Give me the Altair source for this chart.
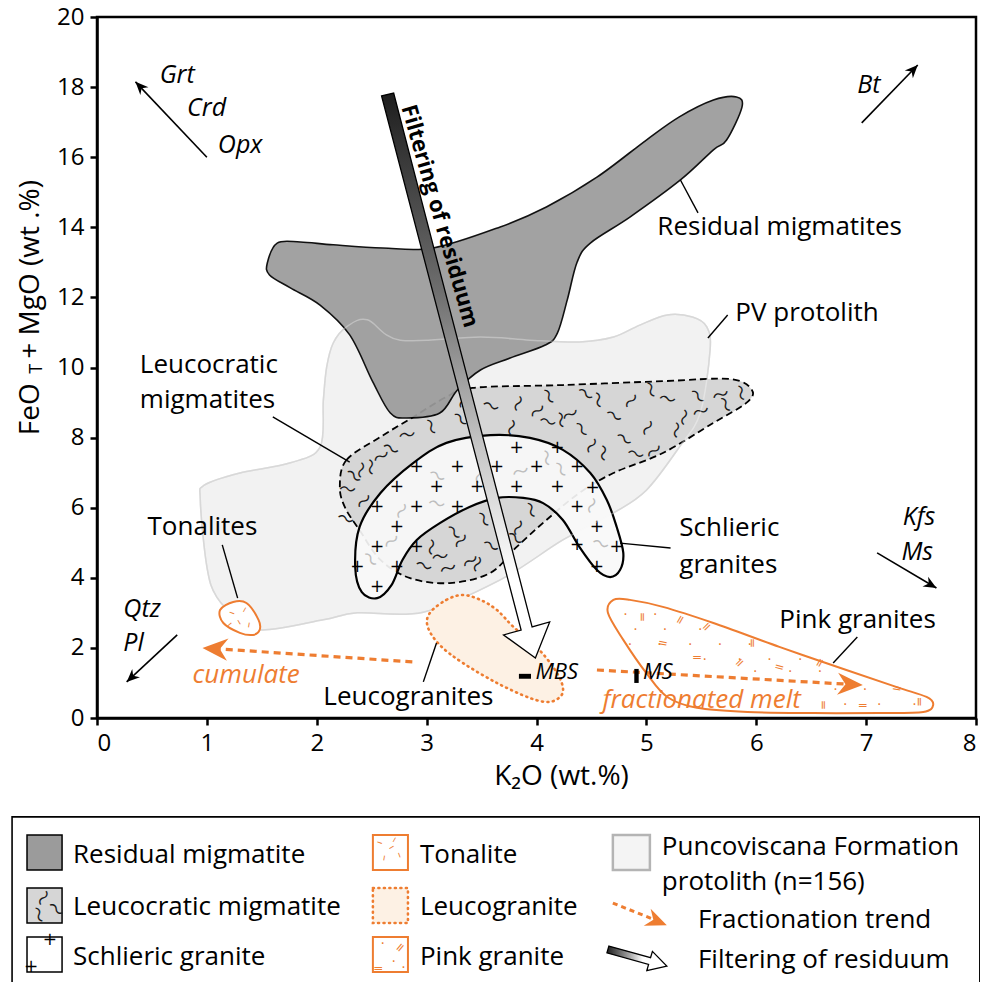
import altair as alt
import pandas as pd

FONT = "Open Sans"
GLYPH = "DejaVu Sans"
WAVE_FONT = "Noto Sans CJK JP"
ORANGE = "#ee7d31"

# ---------------- polygons (K2O, FeOT+MgO) ----------------
PV_X = [0.98, 0.94, 1.00, 1.09, 1.30, 1.51, 2.06, 2.37, 2.97, 3.67, 4.24, 4.70, 5.00, 5.30, 5.49, 5.58, 5.55, 5.42, 5.19, 4.94, 4.70, 4.39, 3.94, 3.49, 2.76, 2.46, 2.27, 2.15, 2.09, 2.06, 2.03, 1.76, 1.30]
PV_Y = [6.65, 6.22, 4.31, 3.45, 2.80, 2.51, 2.80, 3.00, 3.02, 3.94, 5.08, 5.85, 6.50, 7.73, 8.70, 10.50, 11.16, 11.44, 11.50, 11.21, 10.87, 10.73, 10.78, 10.87, 10.78, 11.36, 11.16, 10.70, 10.01, 9.07, 7.73, 7.28, 6.99]

RES_X = [1.55, 1.64, 1.85, 2.15, 2.60, 3.06, 3.67, 4.09, 4.55, 5.00, 5.30, 5.61, 5.82, 5.87, 5.73, 5.61, 5.31, 4.85, 4.49, 4.37, 4.28, 4.19, 4.08, 3.76, 3.49, 3.28, 3.12, 2.82, 2.67, 2.51, 2.30, 2.03, 1.76, 1.57]
RES_Y = [12.98, 13.55, 13.58, 13.50, 13.41, 13.41, 14.01, 14.58, 15.43, 16.49, 17.15, 17.63, 17.72, 17.43, 16.49, 16.21, 15.35, 14.29, 13.55, 13.01, 11.93, 10.98, 10.64, 10.27, 9.93, 9.36, 8.70, 8.56, 8.70, 9.59, 10.93, 11.78, 12.27, 12.64]

LEU_X = [2.21, 2.27, 2.58, 2.88, 3.18, 3.42, 4.24, 5.15, 5.76, 5.96, 5.91, 5.61, 5.15, 4.70, 4.39, 4.09, 3.82, 3.58, 3.21, 2.85, 2.58, 2.39, 2.26]
LEU_Y = [6.59, 7.36, 8.02, 8.59, 9.16, 9.42, 9.50, 9.61, 9.67, 9.36, 8.99, 8.42, 7.56, 6.99, 6.42, 5.65, 4.88, 4.14, 3.85, 3.99, 4.51, 5.36, 5.99]

SCH_X = [2.35, 2.39, 2.58, 2.88, 3.18, 3.58, 3.94, 4.24, 4.49, 4.64, 4.73, 4.79, 4.76, 4.67, 4.55, 4.39, 4.24, 4.06, 3.88, 3.64, 3.39, 3.12, 2.91, 2.78, 2.68, 2.55, 2.41]
SCH_Y = [4.31, 5.45, 6.42, 7.28, 7.85, 8.07, 7.99, 7.65, 6.99, 6.22, 5.45, 4.71, 4.22, 4.02, 4.22, 4.88, 5.65, 6.13, 6.28, 6.28, 6.02, 5.56, 5.08, 4.51, 3.79, 3.42, 3.59]

LG_X = [3.03, 3.18, 3.33, 3.49, 3.64, 3.79, 4.00, 4.15, 4.23, 4.23, 4.12, 3.94, 3.64, 3.33, 3.12, 3.01]
LG_Y = [3.00, 3.37, 3.51, 3.37, 3.08, 2.60, 2.03, 1.46, 1.00, 0.66, 0.46, 0.57, 1.00, 1.57, 2.08, 2.60]

PG_X = [4.70, 4.85, 5.15, 5.61, 6.21, 6.82, 7.28, 7.55, 7.61, 7.52, 7.12, 6.52, 5.92, 5.46, 5.19, 5.00, 4.79, 4.65]
PG_Y = [3.37, 3.37, 3.17, 2.71, 2.03, 1.37, 0.88, 0.60, 0.37, 0.17, 0.14, 0.14, 0.17, 0.29, 0.60, 1.28, 2.23, 3.00]

TN_X = [1.12, 1.24, 1.36, 1.47, 1.48, 1.42, 1.30, 1.15]
TN_Y = [3.08, 3.31, 3.28, 2.80, 2.51, 2.37, 2.43, 2.71]

# filtering-of-residuum arrow outline
FA_X = [2.59, 2.70, 3.96, 4.12, 3.99, 3.70, 3.86]
FA_Y = [17.75, 17.83, 2.60, 2.74, 1.71, 2.37, 2.51]

# ---------------- fill patterns ----------------
SQ_X = [3.58, 3.82, 4.10, 4.30, 4.55, 4.70, 4.85, 5.03, 5.19, 5.33, 5.46, 5.67, 5.85, 5.00, 4.79, 4.60, 5.06, 4.40, 4.10, 3.76, 3.03, 2.82, 2.67, 3.33, 2.48, 2.33, 2.42, 2.28, 3.03, 3.24, 3.39, 3.58, 3.82, 3.94, 3.19, 2.97, 3.73, 3.51,
        4.00, 4.44, 5.26, 5.49, 5.71, 4.90, 4.49, 4.21, 3.30, 2.58, 2.39, 2.26, 3.30, 3.67, 3.12, 3.80, 3.45]
SQ_Y = [8.87, 8.99, 9.16, 8.70, 9.07, 8.59, 9.07, 9.36, 9.07, 8.59, 9.16, 9.27, 9.27, 8.30, 7.93, 7.56, 7.65, 8.22, 8.42, 8.30, 8.30, 8.13, 7.65, 9.07, 7.16, 6.88, 6.22, 6.50, 4.88, 5.28, 4.51, 4.88, 5.45, 5.93, 4.31, 4.31, 4.51, 5.65,
        8.79, 9.22, 8.22, 8.79, 8.93, 7.50, 7.79, 8.50, 8.50, 7.50, 7.08, 5.65, 5.08, 5.36, 4.65, 5.10, 4.40]
SQ_A = [20, 110, 60, 150, 80, 30, 130, 70, 10, 100, 45, 160, 75, 120, 35, 90, 140, 55, 15, 105, 65, 170, 25, 125, 85, 40, 135, 5, 95, 50, 145, 30, 115, 70, 160, 20, 100, 60,
        140, 35, 95, 160, 60, 15, 120, 80, 45, 150, 100, 20, 130, 70, 170, 40, 110]

FS_X = [3.09, 3.46, 3.85, 4.21, 2.76, 3.09, 4.08, 2.67, 2.48, 4.49, 4.58, 3.49]
FS_Y = [6.88, 6.93, 7.08, 7.08, 5.93, 6.08, 7.42, 5.08, 4.51, 6.08, 4.94, 7.50]
FS_A = [30, 100, 160, 60, 120, 10, 80, 140, 50, 110, 20, 90]

PL_X = [3.82, 4.19, 2.91, 3.28, 3.64, 4.00, 4.37, 2.73, 3.09, 3.46, 3.82, 4.19, 4.51, 2.55, 2.91, 3.28, 4.37, 2.73, 4.55, 2.55, 2.91, 4.37, 4.73, 2.37, 2.73, 4.55, 2.55]
PL_Y = [7.70, 7.70, 7.16, 7.16, 7.16, 7.16, 7.16, 6.59, 6.59, 6.59, 6.59, 6.59, 6.56, 6.02, 6.02, 6.02, 6.02, 5.45, 5.45, 4.88, 4.88, 4.94, 4.88, 4.31, 4.31, 4.31, 3.74]

TD_X = [1.23, 1.35, 1.30, 1.39, 1.21]
TD_Y = [3.02, 3.08, 2.74, 2.65, 2.65]
TD_A = [20, 120, 60, 100, 140]

PD_X = [4.81, 5.08, 4.90, 5.17, 5.49, 4.85, 5.12, 5.40, 5.67, 5.94, 5.53, 5.85, 6.12, 6.40, 5.99, 6.31, 6.58, 6.72, 6.99, 6.81, 7.12, 7.44]
PD_Y = [2.94, 2.94, 2.51, 2.51, 2.51, 2.08, 2.08, 2.08, 2.08, 2.08, 1.65, 1.65, 1.65, 1.65, 1.30, 1.30, 1.30, 0.80, 0.80, 0.37, 0.37, 0.37]

PK_X = [4.97, 5.31, 5.55, 5.15, 5.97, 5.46, 5.85, 6.21, 6.58, 6.97, 7.28, 7.49, 6.62]
PK_Y = [2.88, 2.80, 2.60, 2.14, 2.14, 1.74, 1.57, 1.46, 1.57, 0.37, 0.86, 0.46, 0.37]
PK_A = [90, 120, 135, 10, 90, 0, 135, 15, 120, 0, 10, 90, 90]

# ---------------- labels ----------------
LAB_T = ["Residual migmatites", "PV protolith", "Leucocratic", "migmatites", "Tonalites", "Schlieric", "granites", "Pink granites", "Leucogranites"]
LAB_X = [5.10, 5.81, 0.39, 0.39, 0.46, 5.30, 5.30, 6.21, 2.06]
LAB_Y = [14.01, 11.55, 10.07, 9.07, 5.45, 5.42, 4.37, 2.80, 0.60]

MIN_T = ["Grt", "Crd", "Opx", "Bt", "Qtz", "Pl"]
MIN_TX = [0.57, 0.82, 1.10, 6.92, 0.24, 0.24]
MIN_TY = [18.35, 17.40, 16.35, 18.06, 3.12, 2.13]
MINR_T = ["Kfs", "Ms"]
MINR_X = [7.63, 7.61]
MINR_Y = [5.73, 4.74]

SM_T = ["MBS", "MS"]
SM_X = [3.99, 4.97]
SM_Y = [1.30, 1.30]
SM_RX0 = [3.84, 4.89]
SM_RX1 = [3.95, 4.93]
SM_RY0 = [1.12, 1.00]
SM_RY1 = [1.26, 1.40]

OR_T = ["cumulate", "fractionated melt"]
OR_X = [0.87, 4.60]
OR_Y = [1.23, 0.50]

# leader lines
LEAD_X0 = [5.31, 5.56, 1.60, 1.14, 2.97, 4.76, 6.70]
LEAD_Y0 = [15.35, 10.84, 8.59, 4.94, 1.03, 4.99, 1.57]
LEAD_X1 = [5.47, 5.74, 2.30, 1.28, 3.09, 5.22, 6.92]
LEAD_Y1 = [14.41, 11.50, 7.30, 3.42, 2.14, 4.85, 2.31]

# mineral vectors
MV_X0 = [1.00, 6.96, 7.10, 0.73]
MV_Y0 = [16.00, 16.98, 4.71, 2.37]
MV_X1 = [0.35, 7.47, 7.64, 0.27]
MV_Y1 = [18.15, 18.63, 3.71, 1.03]
MV_A = [316, 44, 120, 227]

# fractionation trends
FR_X0 = [2.87, 4.55]
FR_Y0 = [1.60, 1.37]
FR_X1 = [1.12, 6.80]
FR_Y1 = [1.97, 0.97]
FR_TX = [0.96, 6.97]
FR_TY = [2.00, 0.94]
FR_A = [274, 93]

# y-axis title pieces
YT_T = ["FeO", "+ MgO (wt .%)"]
YT_X = [-0.605, -0.605]
YT_Y = [8.07, 10.25]
YSUB_T = ["T"]
YSUB_X = [-0.550]
YSUB_Y = [9.82]

# ---------------- legend (same scales, below the axis) ----------------
LB_X0, LB_X1, LB_Y0, LB_Y1 = [-0.773], [8.035], [-2.82], [-8.2]
SW_C1 = [-0.637, -0.318]
SW_C2 = [2.511, 2.830]
SW_C3 = [4.695, 5.032]
SW_R1 = [-3.34, -4.34]
SW_R2 = [-4.85, -5.85]
SW_R3 = [-6.25, -7.25]
LEG_T = ["Residual migmatite", "Leucocratic migmatite", "Schlieric granite", "Tonalite", "Leucogranite", "Pink granite", "Puncoviscana Formation", "protolith (n=156)", "Fractionation trend", "Filtering of residuum"]
LEG_X = [-0.218, -0.218, -0.218, 2.939, 2.939, 2.939, 5.141, 5.141, 5.469, 5.469]
LEG_Y = [-3.91, -5.39, -6.82, -3.91, -5.39, -6.82, -3.68, -4.68, -5.76, -6.90]
LSQ_X = [-0.50, -0.38, -0.54]
LSQ_Y = [-5.11, -5.48, -5.62]
LSQ_A = [120, 40, 70]
LPL_X = [-0.43, -0.60]
LPL_Y = [-6.33, -7.10]
LTD_X = [2.575, 2.712, 2.757, 2.621, 2.684]
LTD_Y = [-3.54, -3.48, -3.91, -4.00, -3.71]
LTD_A = [20, 120, 70, 100, 150]
LPD_X = [2.600, 2.700, 2.790]
LPD_Y = [-6.45, -6.95, -7.12]
LPK_X = [2.760, 2.560]
LPK_Y = [-6.55, -7.13]
LPK_A = [130, 0]
LFR_X0, LFR_Y0, LFR_X1, LFR_Y1 = [4.695], [-5.28], [5.077], [-5.76]
LFR_TX, LFR_TY, LFR_A = [5.186], [-5.91], [112]
LFA_X = [4.659, 5.038, 5.055, 5.186, 5.004, 5.020, 4.641]
LFA_Y = [-6.508, -6.836, -6.659, -7.076, -7.207, -7.030, -6.702]

# ---------------- encodings ----------------
XS = alt.Scale(domain=[0, 8], nice=False, zero=False)
YS = alt.Scale(domain=[0, 20], nice=False, zero=False)
X_AXIS = alt.Axis(values=list(range(0, 9)), title="K₂O (wt.%)", grid=False,
                  labelFont=FONT, labelFontSize=24, labelColor="black", labelPadding=6,
                  tickSize=7, tickWidth=2.5, tickColor="black", domainColor="black", domainWidth=2.5,
                  titleFont=FONT, titleFontSize=28, titleFontWeight="normal", titleColor="black",
                  titleX=464, titleY=58, titleAlign="center", titleBaseline="middle")
Y_AXIS = alt.Axis(values=list(range(0, 21, 2)), title="", grid=False,
                  labelFont=FONT, labelFontSize=24, labelColor="black", labelPadding=6,
                  tickSize=7, tickWidth=2.5, tickColor="black", domainColor="black", domainWidth=2.5)


def X(f="x"):
    return alt.X(f"{f}:Q", scale=XS, axis=X_AXIS)


def Y(f="y"):
    return alt.Y(f"{f}:Q", scale=YS, axis=Y_AXIS)


def poly(xs, ys, interp="cardinal-closed", **kw):
    df = pd.DataFrame({"x": xs, "y": ys, "i": list(range(len(xs)))})
    return alt.Chart(df).mark_line(interpolate=interp, **kw).encode(x=X(), y=Y(), order="i:Q")


def texts(ts, xs, ys, **kw):
    df = pd.DataFrame({"x": xs, "y": ys, "t": ts})
    return alt.Chart(df).mark_text(**kw).encode(x=X(), y=Y(), text="t:N")


def glyphs(g, xs, ys, angles=None, font=GLYPH, **kw):
    df = pd.DataFrame({"x": xs, "y": ys, "t": [g] * len(xs)})
    enc = dict(x=X(), y=Y(), text="t:N")
    if angles is not None:
        df["a"] = angles
        enc["angle"] = alt.Angle("a:Q", scale=None)
    return alt.Chart(df).mark_text(font=font, **kw).encode(**enc)


def segs(x0, y0, x1, y1, **kw):
    df = pd.DataFrame({"x0": x0, "y0": y0, "x1": x1, "y1": y1})
    return alt.Chart(df).mark_rule(**kw).encode(x=X("x0"), y=Y("y0"), x2="x1:Q", y2="y1:Q")


def rects(x0, x1, y0, y1, **kw):
    df = pd.DataFrame({"x0": x0, "x1": x1, "y0": y0, "y1": y1})
    return alt.Chart(df).mark_rect(**kw).encode(x=X("x0"), x2="x1:Q", y=Y("y0"), y2="y1:Q")


HEAD = "M0,0 L0.7,1.6 L0,1.1 L-0.7,1.6 Z"


def heads(xs, ys, angles, size, color):
    df = pd.DataFrame({"x": xs, "y": ys, "a": angles})
    return alt.Chart(df).mark_point(shape=HEAD, filled=True, size=size, color=color, opacity=1, strokeWidth=0).encode(
        x=X(), y=Y(), angle=alt.Angle("a:Q", scale=None))


SHAFT_GRAD = alt.Gradient(gradient="linear", x1=0, y1=0, x2=0, y2=1,
                          stops=[alt.GradientStop(color="#1e1e1e", offset=0),
                                 alt.GradientStop(color="#6e6e6e", offset=0.35),
                                 alt.GradientStop(color="#c4c4c4", offset=0.62),
                                 alt.GradientStop(color="#ffffff", offset=0.86)])
LEG_GRAD = alt.Gradient(gradient="linear", x1=0, y1=0, x2=1, y2=0,
                        stops=[alt.GradientStop(color="#1e1e1e", offset=0),
                               alt.GradientStop(color="#9a9a9a", offset=0.35),
                               alt.GradientStop(color="#ffffff", offset=0.6)])

WAVE = "〜"

layers = [
    poly(PV_X, PV_Y, fill="#f2f2f2", stroke="#c4c4c4", strokeWidth=1.5),
    poly(LEU_X, LEU_Y, fill="#d6d6d6", stroke="black", strokeWidth=1.8, strokeDash=[7, 4]),
    glyphs(WAVE, SQ_X, SQ_Y, SQ_A, font=WAVE_FONT, fontSize=17, color="#1a1a1a"),
    poly(RES_X, RES_Y, fill="#9b9b9b", stroke="black", strokeWidth=1.6, opacity=0.93),
    poly(SCH_X, SCH_Y, fill="#f8f8f8", stroke="black", strokeWidth=2.2, fillOpacity=0.92),
    glyphs(WAVE, FS_X, FS_Y, FS_A, font=WAVE_FONT, fontSize=17, color="#bdbdbd"),
    glyphs("+", PL_X, PL_Y, fontSize=17, color="black"),
    poly(PV_X, PV_Y, stroke="white", strokeWidth=1.5, strokeOpacity=0.35),
    poly(LG_X, LG_Y, fill="#fdf1e4", stroke=ORANGE, strokeWidth=2.6, strokeDash=[1, 4.5], strokeCap="round"),
    poly(TN_X, TN_Y, fill="white", stroke=ORANGE, strokeWidth=2),
    glyphs("–", TD_X, TD_Y, TD_A, fontSize=12, color=ORANGE),
    poly(PG_X, PG_Y, fill="white", stroke=ORANGE, strokeWidth=2),
    glyphs("·", PD_X, PD_Y, fontSize=14, color=ORANGE),
    glyphs("=", PK_X, PK_Y, PK_A, fontSize=12, color=ORANGE),
    segs(FR_X0, FR_Y0, FR_X1, FR_Y1, color=ORANGE, strokeWidth=3.2, strokeDash=[7, 5]),
    heads(FR_TX, FR_TY, FR_A, 1000, ORANGE),
    poly(FA_X, FA_Y, interp="linear-closed", fill=SHAFT_GRAD, stroke="black", strokeWidth=1.3),
    texts(["Filtering of residuum"], [3.12], [14.32], font=FONT, fontSize=22, fontWeight="bold",
          angle=74, align="center", baseline="middle", color="black"),
    rects(SM_RX0, SM_RX1, SM_RY0, SM_RY1, color="black"),
    texts(SM_T, SM_X, SM_Y, font=FONT, fontSize=22, fontStyle="italic", align="left", baseline="middle", color="black"),
    segs(LEAD_X0, LEAD_Y0, LEAD_X1, LEAD_Y1, color="black", strokeWidth=1.4),
    segs(MV_X0, MV_Y0, MV_X1, MV_Y1, color="black", strokeWidth=1.6),
    heads(MV_X1, MV_Y1, MV_A, 260, "black"),
    texts(LAB_T, LAB_X, LAB_Y, font=FONT, fontSize=26, align="left", baseline="middle", color="black"),
    texts(MIN_T, MIN_TX, MIN_TY, font=FONT, fontSize=25, fontStyle="italic", align="left", baseline="middle", color="black"),
    texts(MINR_T, MINR_X, MINR_Y, font=FONT, fontSize=25, fontStyle="italic", align="right", baseline="middle", color="black"),
    texts(OR_T, OR_X, OR_Y, font=FONT, fontSize=26, fontStyle="italic", align="left", baseline="middle", color=ORANGE),
    texts(YT_T, YT_X, YT_Y, font=FONT, fontSize=28, angle=270, align="left", baseline="middle", color="black"),
    texts(YSUB_T, YSUB_X, YSUB_Y, font=FONT, fontSize=18, angle=270, align="left", baseline="middle", color="black"),
    # legend
    rects(LB_X0, LB_X1, LB_Y0, LB_Y1, fill="white", stroke="black", strokeWidth=1.6),
    rects([SW_C1[0]], [SW_C1[1]], [SW_R1[0]], [SW_R1[1]], fill="#9b9b9b", stroke="black", strokeWidth=1.5),
    rects([SW_C1[0]], [SW_C1[1]], [SW_R2[0]], [SW_R2[1]], fill="#d6d6d6", stroke="black", strokeWidth=1.5),
    glyphs(WAVE, LSQ_X, LSQ_Y, LSQ_A, font=WAVE_FONT, fontSize=17, color="#1a1a1a"),
    rects([SW_C1[0]], [SW_C1[1]], [SW_R3[0]], [SW_R3[1]], fill="white", stroke="black", strokeWidth=1.5),
    glyphs("+", LPL_X, LPL_Y, fontSize=17, color="black"),
    rects([SW_C2[0]], [SW_C2[1]], [SW_R1[0]], [SW_R1[1]], fill="white", stroke=ORANGE, strokeWidth=2),
    glyphs("–", LTD_X, LTD_Y, LTD_A, fontSize=12, color=ORANGE),
    rects([SW_C2[0]], [SW_C2[1]], [SW_R2[0]], [SW_R2[1]], fill="#fdf1e4", stroke=ORANGE, strokeWidth=2.6,
          strokeDash=[1, 4.5], strokeCap="round"),
    rects([SW_C2[0]], [SW_C2[1]], [SW_R3[0]], [SW_R3[1]], fill="white", stroke=ORANGE, strokeWidth=2),
    glyphs("·", LPD_X, LPD_Y, fontSize=14, color=ORANGE),
    glyphs("=", LPK_X, LPK_Y, LPK_A, fontSize=12, color=ORANGE),
    rects([SW_C3[0]], [SW_C3[1]], [SW_R1[0]], [SW_R1[1]], fill="#f4f4f4", stroke="#b4b4b4", strokeWidth=2.5),
    segs(LFR_X0, LFR_Y0, LFR_X1, LFR_Y1, color=ORANGE, strokeWidth=3, strokeDash=[5, 4]),
    heads(LFR_TX, LFR_TY, LFR_A, 700, ORANGE),
    poly(LFA_X, LFA_Y, interp="linear-closed", fill=LEG_GRAD, stroke="black", strokeWidth=1.3),
    texts(LEG_T, LEG_X, LEG_Y, font=FONT, fontSize=26, align="left", baseline="middle", color="black"),
]

chart = alt.layer(*layers).properties(
    width=879, height=701,
    padding={"left": 89, "top": 9, "right": 4, "bottom": 264},
    autosize=alt.AutoSizeParams(type="none"),
).configure_view(stroke="black", strokeWidth=2.5)

chart.save("out.html", embed_options={"renderer": "svg", "actions": False})
